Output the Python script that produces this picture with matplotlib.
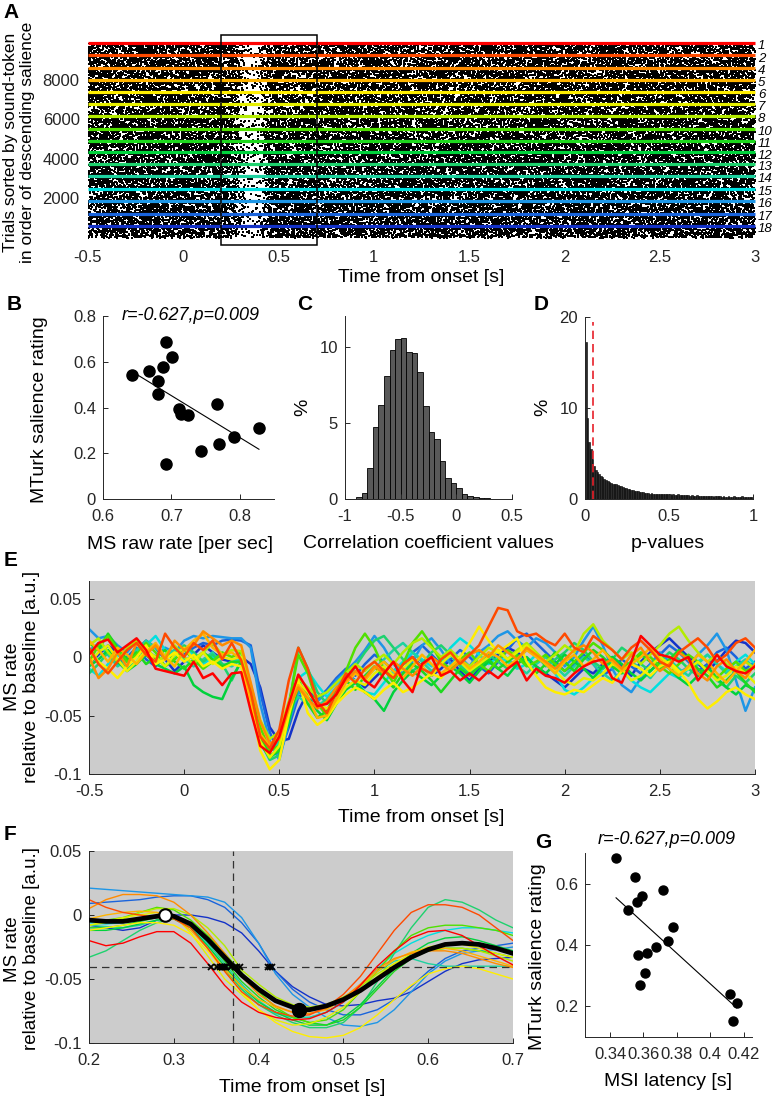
import numpy as np
import matplotlib
matplotlib.use("Agg")
import matplotlib.pyplot as plt
from matplotlib.patches import Rectangle
from matplotlib.ticker import FormatStrFormatter

plt.rcParams["font.family"] = ["Liberation Sans", "DejaVu Sans"]
plt.rcParams["axes.unicode_minus"] = False

W, H = 775, 1098
TICK_FS, LAB_FS = 12, 14
AXC = "#262626"
BG = "#cccccc"

# ---------------- data ----------------
tokens = [1, 2, 4, 5, 6, 7, 8, 10, 11, 12, 13, 14, 15, 16, 17, 18]
token_colors = ["#ff0000", "#ff4a00", "#ff8c00", "#ffb400", "#ffee00", "#e6f000",
                "#b4ec00", "#50e000", "#1ed81e", "#00d23c", "#1ed26e", "#1ed2a0",
                "#00e0e0", "#1e96e6", "#1a64dc", "#1432c8"]
n_trials = [626, 644, 591, 625, 610, 592, 660, 609, 574, 594, 594, 675, 593, 676, 594, 609]

salience = [0.685, 0.622, 0.578, 0.561, 0.540, 0.515, 0.458, 0.414,
            0.394, 0.373, 0.367, 0.309, 0.271, 0.240, 0.211, 0.153]
ms_raw_rate = [0.692, 0.701, 0.688, 0.667, 0.643, 0.681, 0.681, 0.766,
               0.711, 0.714, 0.724, 0.828, 0.792, 0.770, 0.744, 0.692]
msi_latency = [0.3436, 0.3549, 0.3718, 0.3589, 0.3563, 0.3506, 0.3778, 0.3748,
               0.3675, 0.3619, 0.3565, 0.3609, 0.3579, 0.4116, 0.4158, 0.4136]

# relative microsaccade density along time in the raster (white gap after onset)
raster_t = [-0.5, 0.22, 0.27, 0.31, 0.35, 0.40, 0.43, 0.47, 3.0]
raster_density = [1.0, 1.0, 0.8, 0.3, 0.12, 0.2, 0.6, 1.0, 1.0]
raster_events = 52000

# C: histogram of correlation coefficients, bins of 0.05 from -0.9
corr_bin0, corr_bw = -0.9, 0.05
corr_pct = [0.1, 0.42, 2.06, 4.74, 6.16, 8.05, 9.8, 10.46, 10.57, 9.65, 9.58, 8.31,
            6.12, 4.41, 3.93, 2.5, 1.36, 1.07, 0.7, 0.31, 0.22, 0.11, 0.09, 0.04, 0.02]

# D: histogram of p-values, bins of 0.01 from 0
pval_bw = 0.01
pval_pct = [17.3, 8.9, 6.3, 5.5, 4.4, 3.6, 3.2, 3.0, 2.8, 2.5,
            2.4, 2.2, 2.1, 2.0, 1.9, 1.8, 1.7, 1.6, 1.6, 1.5,
            1.4, 1.4, 1.3, 1.2, 1.2, 1.1, 1.1, 1.0, 1.0, 0.9,
            0.9, 0.9, 0.8, 0.8, 0.8, 0.7, 0.7, 0.7, 0.6, 0.7,
            0.6, 0.6, 0.6, 0.5, 0.6, 0.5, 0.5, 0.5, 0.5, 0.5,
            0.5, 0.4, 0.5, 0.4, 0.4, 0.5, 0.4, 0.4, 0.4, 0.4,
            0.4, 0.4, 0.3, 0.4, 0.3, 0.3, 0.4, 0.3, 0.3, 0.3,
            0.3, 0.3, 0.3, 0.3, 0.3, 0.3, 0.2, 0.3, 0.3, 0.3,
            0.3, 0.2, 0.3, 0.2, 0.2, 0.3, 0.2, 0.2, 0.3, 0.2,
            0.2, 0.2, 0.2, 0.3, 0.2, 0.2, 0.2, 0.2, 0.2, 0.2]
pval_crit = 0.05

# E: MS rate per token, 1e-3 a.u., sampled every 0.05 s from -0.5 to 3.0
e_t = np.round(np.arange(-0.5, 3.0001, 0.05), 2)
e_rate_milli = [
    [2, 12, 15, 4, 10, 16, 6, -10, -12, -14, -16, -4, -18, -14, -24, -14,
     -13, -46, -76, -82, -68, -40, -15, -28, -42,
     -40, -32, -18, -8, -20, -26, -14, -4, -20, -30, -6, 0, -16, -12, -20, -14, -20, -12, -18, -10, -4, -20, -10,
     -16, -18, -22, -14, -8, -4, -2, -18, -22, -4, 18, 10, 2, 0, -4, 0, -20, -10, 2, -8, -12, -14, -8],
    [8, -6, -14, -4, 6, 12, 2, -4, 20, 8, 0, 12, 6, 14, -2, 12,
     -3, -30, -68, -78, -62, -20, 8, -10, -38,
     -48, -30, -14, -22, -10, -4, -12, -18, -6, 0, -10, -14, -2, 4, -6, 2, 10, 26, 42, 40, 22, 18, 20,
     14, 10, 20, 8, 4, 18, 12, 6, -2, 8, 14, 6, -4, -8, 4, 10, 16, 8, -4, 2, 12, 16, 8],
    [0, -18, -10, 4, -8, 12, 2, 10, -2, 14, 6, 10, 22, 16, 10, 14,
     10, -22, -55, -74, -70, -44, -26, -36, -44,
     -38, -26, -20, -12, -18, -8, -14, -4, -10, -16, -8, 0, -6, -12, -4, 2, 6, 0, 10, 4, -2, 8, 2,
     -4, -10, -2, 6, 10, 4, -6, -2, -10, 2, 8, -4, -12, -6, 4, -2, -14, -20, -8, -2, -12, -18, -6],
    [14, 6, -4, 8, 2, -6, 4, 12, 0, -8, 6, 14, 20, 8, 2, 4,
     -2, -36, -66, -76, -66, -40, -24, -34, -52,
     -50, -36, -22, -14, -20, -10, -4, -12, -18, -8, 2, -6, -14, -8, -2, -10, -4, 4, 0, -8, -2, 6, 0,
     -6, -14, -4, 2, -8, -2, 6, -4, -12, -6, 0, 8, -2, -10, -16, -8, 2, -4, -14, -22, -12, -4, 6],
    [6, -4, -10, -18, -8, 0, 10, -6, -2, 4, -4, 2, -8, -4, -10, -6,
     -8, -40, -80, -96, -88, -50, -20, -48, -58,
     -52, -40, -32, -26, -30, -36, -28, -22, -30, -26, -20, -14, -18, -8, 0, 12, 26, 14, 4, 10, 16, -4, -16,
     -26, -30, -32, -28, -30, -24, -18, -22, -12, -6, -10, -16, -8, -4, -12, -22, -36, -44, -38, -30, -26, -32, -36],
    [-6, 4, 10, -2, -12, -4, 6, 0, -8, 2, 8, -2, 4, -6, 0, -2,
     0, -34, -72, -86, -76, -46, -22, -30, -40,
     -44, -38, -26, -20, -24, -14, -8, -16, -10, -2, -8, -16, -6, 2, -4, -12, -6, 0, 6, -2, 4, 10, 2,
     -6, -12, -20, -24, -18, -20, -14, -6, -10, -20, -16, -8, 0, -6, -14, -10, -4, -12, -20, -16, -8, -14, -22],
    [10, 16, 4, -4, 8, 14, 4, -6, 2, 10, 0, -6, 4, 12, 2, 6,
     5, -24, -54, -70, -64, -38, -18, -26, -34,
     -30, -22, -14, -6, -12, -4, 2, -6, 4, 12, 16, 8, 0, 6, -2, -8, 0, 8, 4, -2, 6, 12, 4,
     -4, 2, 10, 4, 20, 28, 14, 6, -2, 4, -6, 2, 10, 20, 26, 14, 4, -4, 2, -6, -12, -4, -10],
    [-4, 10, 18, 6, -4, 2, 12, 4, -8, -2, 6, -2, -10, -4, 4, 0,
     4, -30, -60, -80, -76, -40, 2, -14, -40,
     -50, -36, -12, 8, 20, 8, -10, -22, -6, 12, 22, 10, -4, -10, -2, 4, -6, -12, -2, 6, 0, -8, -4,
     2, -6, -12, -4, 4, 12, 6, -2, -10, -4, 4, 0, -8, -14, -6, 2, -4, -12, -18, -10, -4, -12, -8],
    [12, 6, 20, 8, -2, 4, -6, 0, 6, -4, -10, -2, 4, -2, -8, -4,
     -4, -36, -68, -84, -80, -52, -26, -40, -52,
     -46, -30, -20, -28, -16, -8, -18, -26, -14, -6, -12, -20, -30, -20, -10, -16, -8, -2, -10, -4, 2, -6, -14,
     -6, 4, -4, -12, -2, 6, 0, -8, -14, -6, 2, -4, -10, -2, 6, -2, -10, -16, -26, -20, -12, -22, -30],
    [-8, -2, 6, -4, -12, -6, 2, -6, -10, -14, -8, -24, -30, -34, -36, -18,
     -4, -40, -74, -86, -80, -56, -20, -34, -46,
     -54, -40, -28, -22, -30, -36, -46, -30, -20, -12, -18, -24, -16, -8, -14, -22, -12, -4, -10, -16, -6, 0, -8,
     -14, -6, 2, -4, -10, -18, -8, 0, -6, -14, -20, -12, -4, -10, -18, -24, -16, -8, -18, -26, -32, -24, -28],
    [-14, -6, 4, -2, -10, -4, 6, 0, -8, 2, 10, 4, -4, 2, -6, -20,
     -3, -36, -72, -88, -84, -44, 8, -10, -30,
     -40, -28, -18, -8, 4, 14, 18, 8, -2, -12, -6, 4, 10, 2, -8, -14, -6, 2, -4, -10, -2, 6, 2,
     -8, -2, 4, 12, 6, -4, -10, -2, 8, 2, -6, -12, -4, 4, -2, -10, -16, -8, -20, -26, -16, -22, -14],
    [4, 12, 2, -8, -2, 6, 14, 8, 0, 6, -2, -8, -2, 4, -6, -8,
     -2, -38, -68, -80, -72, -44, -34, -40, -42,
     -36, -28, -20, -12, -18, -10, -2, 6, 12, 4, -4, -12, -6, 2, -6, -14, -8, -2, 6, -2, -8, -14, -6,
     0, -8, -16, -8, 0, -6, -14, -20, -12, -4, -10, -18, -8, -2, -10, -16, -6, 2, -6, -14, -8, -2, -10],
    [-10, -16, -6, 2, -4, 4, 10, 18, 6, -2, 8, 2, -6, 0, -8, -4,
     -2, -40, -70, -80, -74, -48, -18, -12, -24,
     -34, -26, -16, -20, -30, -32, -22, -12, -4, 4, -2, -8, -4, 8, 16, 10, 2, -6, 0, -4, -10, -6, 2,
     -6, -14, -28, -32, -26, -18, -10, -4, -12, -20, -26, -30, -22, -14, -18, -10, -4, 2, -6, -12, -4, 2, -6],
    [24, 16, 18, 10, 4, 14, 6, 0, 8, 4, 14, 18, 16, 18, 17, 16,
     16, 8, -40, -72, -88, -56, -30, -36, -38,
     -30, -20, -12, -4, 6, 18, 8, -6, -14, -4, 10, 16, 6, -6, 0, -8, 4, 10, 18, 22, 14, 8, 16,
     12, 4, -8, 0, 14, 26, 10, -10, -24, -30, -18, -6, 4, -4, -14, -8, 2, 10, 20, 6, -20, -46, -26],
    [6, 10, 2, -6, 0, 8, -2, -8, 0, 6, 2, 8, 12, 10, 14, 15,
     14, 10, -30, -64, -84, -60, -34, -30, -36,
     -28, -18, -10, -16, -6, 2, -4, -12, -6, 4, 10, 2, -6, -2, 6, 0, -8, -14, -4, 6, 16, 20, 12,
     4, -4, -12, -6, 2, -6, -16, -10, -2, -8, -14, -6, 2, 10, 4, -4, -12, -6, 4, 8, 0, -10, -4],
    [-6, 2, 10, 4, -4, 6, 14, 8, -2, -12, -4, 2, 10, 4, -2, -4,
     0, -6, -26, -60, -72, -70, -46, -30, -34,
     -30, -22, -14, -20, -26, -18, -10, -16, -6, 0, -8, -16, -10, -2, -12, -20, -10, -4, 2, 8, 4, -2, -8,
     -14, -20, -26, -18, -10, -14, -6, 0, -8, -16, -4, 4, 10, 16, 8, 0, -6, -12, -4, 6, 14, 12, 4],
]

# F: zoom 0.2-0.7 s, 1e-3 a.u., sampled every 0.02 s
f_t = np.round(np.arange(0.2, 0.7001, 0.02), 2)
f_rate_milli = [
    [-20, -24, -22, -17, -13, -13, -22, -38, -55, -68, -76, -80, -82, -81, -76, -68, -55, -40, -28, -18, -13, -12, -16, -24, -32, -39],
    [12, 6, 2, 0, -2, -3, -10, -26, -44, -60, -70, -76, -79, -78, -72, -62, -48, -30, -12, 2, 8, 8, 6, 0, -10, -20],
    [5, 12, 16, 16, 15, 10, 0, -14, -30, -48, -62, -71, -76, -77, -73, -65, -54, -42, -34, -30, -28, -28, -30, -34, -38, -41],
    [-3, 0, 2, 3, 2, -2, -12, -26, -42, -56, -66, -72, -76, -77, -74, -66, -55, -44, -35, -29, -26, -26, -28, -32, -36, -40],
    [-12, -10, -8, -6, -6, -8, -15, -28, -44, -60, -74, -84, -91, -95, -96, -94, -88, -78, -66, -55, -46, -42, -40, -42, -46, -50],
    [-8, -5, -2, 0, 2, 0, -14, -32, -50, -62, -74, -82, -86, -85, -80, -72, -60, -48, -38, -30, -25, -23, -23, -26, -30, -33],
    [-8, -6, -3, 2, 5, 5, 0, -10, -24, -43, -54, -64, -70, -72, -70, -64, -56, -46, -38, -32, -28, -26, -26, -28, -32, -36],
    [-5, -4, -2, 2, 6, 4, -4, -16, -30, -45, -60, -72, -80, -84, -82, -74, -60, -44, -28, -16, -10, -8, -8, -10, -12, -16],
    [-10, -10, -8, -5, -2, -2, -8, -20, -36, -52, -64, -74, -80, -84, -86, -82, -72, -58, -44, -34, -28, -26, -26, -28, -30, -33],
    [-12, -12, -10, -7, -4, -3, -10, -24, -40, -56, -68, -76, -82, -86, -86, -80, -70, -56, -42, -30, -22, -18, -17, -20, -24, -28],
    [-33, -28, -20, -12, -6, -3, -10, -26, -43, -58, -70, -78, -84, -88, -88, -84, -72, -52, -30, -10, 6, 12, 10, 4, -4, -10],
    [-8, -9, -10, -8, -4, -2, -8, -22, -38, -54, -67, -76, -80, -80, -76, -68, -56, -44, -36, -34, -38, -40, -40, -40, -40, -40],
    [-6, -7, -6, -4, -2, -2, -9, -24, -42, -58, -70, -77, -80, -80, -76, -68, -56, -42, -30, -22, -16, -12, -10, -10, -12, -14],
    [21, 20, 19, 18, 17, 16, 15, 14, 10, -2, -22, -46, -62, -72, -80, -86, -87, -84, -74, -60, -46, -36, -30, -28, -27, -25],
    [9, 10, 11, 12, 14, 15, 15, 12, 6, -6, -22, -44, -58, -68, -74, -78, -78, -74, -66, -56, -44, -34, -28, -26, -24, -22],
    [-8, -10, -12, -10, -4, 0, 0, -2, -6, -14, -28, -44, -56, -64, -70, -71, -70, -67, -65, -60, -52, -44, -38, -35, -34, -33],
]
mean_t = [0.2, 0.22, 0.24, 0.26, 0.28, 0.29, 0.30, 0.32, 0.34, 0.36, 0.38, 0.40, 0.42, 0.44,
          0.45, 0.46, 0.48, 0.50, 0.52, 0.54, 0.56, 0.58, 0.60, 0.62, 0.64, 0.66, 0.68, 0.70]
mean_milli = [-4, -5, -5, -3, -1, 0, -1, -7, -19, -33, -47, -58, -67, -72,
              -74, -74, -71, -66, -59, -50, -41, -33, -27, -23, -22, -23, -26, -30]
peak_pt = (0.29, 0.0)
trough_pt = (0.448, -0.074)
thresh = -0.041
mean_latency = 0.37


# ---------------- helpers ----------------
fig = plt.figure(figsize=(W / 100, H / 100), dpi=100)


def px_axes(left, top, right, bottom):
    return fig.add_axes([left / W, 1 - bottom / H, (right - left) / W, (bottom - top) / H])


def ftext(x, y, s, **kw):
    kw.setdefault("ha", "center")
    kw.setdefault("va", "center")
    kw.setdefault("fontsize", LAB_FS)
    fig.text(x / W, 1 - y / H, s, **kw)


def style(ax, fmt="%g"):
    for side in ("top", "right"):
        ax.spines[side].set_visible(False)
    for side in ("left", "bottom"):
        ax.spines[side].set_color(AXC)
        ax.spines[side].set_linewidth(0.7)
    ax.tick_params(direction="in", length=3.5, width=0.7, color=AXC,
                   labelsize=TICK_FS, labelcolor=AXC)
    ax.tick_params(axis="x", pad=7)
    ax.tick_params(axis="y", pad=5)
    ax.xaxis.set_major_formatter(FormatStrFormatter(fmt))
    ax.yaxis.set_major_formatter(FormatStrFormatter(fmt))


# ---------------- A: raster ----------------
axA = px_axes(88, 43, 755, 237.7)
total = sum(n_trials)
axA.set_xlim(-0.5, 3.0)
axA.set_ylim(0, total)

# the single events cannot be read: stand-in speckle from quadratic Weyl
# sequences (deterministic), time warped so density follows the read-off profile
k = np.arange(raster_events, dtype=float)
u1 = (k * k * 0.41421356237 + k * 0.23606797750) % 1
u2 = (k * k * 0.73205080757 + k * 0.14159265359) % 1
tt = np.linspace(-0.5, 3.0, 1401)
cdf = np.cumsum(np.interp(tt, raster_t, raster_density))
cdf = (cdf - cdf[0]) / (cdf[-1] - cdf[0])
xs = np.interp(u1, cdf, tt)
ys = total * u2
axA.scatter(xs, ys, s=1.6, marker="s", c="black", linewidths=0,
            rasterized=True, zorder=1)

tops = np.cumsum(n_trials[::-1])[::-1]
for tok, col, y in zip(tokens, token_colors, tops):
    axA.plot([-0.5, 3.0], [y, y], color=col, lw=2.3, solid_capstyle="butt",
             clip_on=False, zorder=3)
    axA.text(3.015, y - 170, str(tok), fontsize=9.5, style="italic",
             ha="left", va="center", clip_on=False)
axA.add_patch(Rectangle((0.2, -370), 0.5, total + 790, fill=False, ec="black",
                        lw=1.1, clip_on=False, zorder=4))
for s in axA.spines.values():
    s.set_visible(False)
axA.set_xticks([-0.5, 0, 0.5, 1, 1.5, 2, 2.5, 3])
axA.set_yticks([2000, 4000, 6000, 8000])
axA.tick_params(length=0, labelsize=TICK_FS, labelcolor=AXC)
axA.tick_params(axis="x", pad=9)
axA.tick_params(axis="y", pad=6)
axA.xaxis.set_major_formatter(FormatStrFormatter("%g"))
ftext(421, 277, "Time from onset [s]")
ftext(19, 142, "Trials sorted by sound-token\nin order of descending salience",
      rotation=90, fontsize=12.5, linespacing=1.15)

# ---------------- B ----------------
axB = px_axes(103, 316, 274, 499)
axB.plot(ms_raw_rate, salience, "o", color="black", ms=8, zorder=3)
cb = np.polyfit(ms_raw_rate, salience, 1)
xb = np.array([min(ms_raw_rate), max(ms_raw_rate)])
axB.plot(xb, np.polyval(cb, xb), color="black", lw=0.8)
axB.set_xlim(0.6, 0.85)
axB.set_ylim(0, 0.8)
axB.set_xticks([0.6, 0.7, 0.8])
axB.set_yticks([0, 0.2, 0.4, 0.6, 0.8])
style(axB)
ftext(191, 316, "r=-0.627,p=0.009", style="italic", fontsize=13)
ftext(180, 545, "MS raw rate [per sec]")
ftext(40, 410, "MTurk salience rating", rotation=90)

# ---------------- C ----------------
axC = px_axes(345, 316, 512, 499)
edges_c = corr_bin0 + corr_bw * np.arange(len(corr_pct))
axC.bar(edges_c, corr_pct, width=corr_bw, align="edge", color="#595959",
        edgecolor="black", linewidth=0.6)
axC.set_xlim(-1, 0.5)
axC.set_ylim(0, 12)
axC.set_xticks([-1, -0.5, 0, 0.5])
axC.set_yticks([0, 5, 10])
style(axC)
ftext(428, 543, "Correlation coefficient values")
ftext(303, 407, "%", rotation=90)

# ---------------- D ----------------
axD = px_axes(585, 317, 753, 499)
edges_d = pval_bw * np.arange(len(pval_pct))
axD.bar(edges_d, pval_pct, width=pval_bw, align="edge", color="#2b2b2b",
        edgecolor="black", linewidth=0.4)
axD.plot([pval_crit, pval_crit], [0, 19.5], color="#e8202a", lw=1.2,
         dashes=(5, 3), zorder=3)
axD.set_xlim(0, 1)
axD.set_ylim(0, 20)
axD.set_xticks([0, 0.5, 1])
axD.set_yticks([0, 10, 20])
style(axD)
ftext(668, 543, "p-values")
ftext(543, 407, "%", rotation=90)

# ---------------- E ----------------
axE = px_axes(89, 581, 755, 774)
axE.set_facecolor(BG)
for tr, col in list(zip(e_rate_milli, token_colors))[::-1]:
    axE.plot(e_t, np.array(tr) / 1000, color=col, lw=1.8,
             solid_joinstyle="round")
axE.set_xlim(-0.5, 3.0)
axE.set_ylim(-0.1, 0.065)
axE.set_xticks([-0.5, 0, 0.5, 1, 1.5, 2, 2.5, 3])
axE.set_yticks([-0.1, -0.05, 0, 0.05])
style(axE)
ftext(421, 818, "Time from onset [s]")
ftext(22, 677, "MS rate\nrelative to baseline [a.u.]", rotation=90, linespacing=1.15)

# ---------------- F ----------------
axF = px_axes(89, 851, 513, 1043)
axF.set_facecolor(BG)
for tr, col in list(zip(f_rate_milli, token_colors))[::-1]:
    axF.plot(f_t, np.array(tr) / 1000, color=col, lw=1.0)
axF.axhline(thresh, color="#333333", lw=0.9, dashes=(6, 4), zorder=3)
axF.axvline(mean_latency, color="#333333", lw=0.9, dashes=(6, 4), zorder=3)
axF.plot(mean_t, np.array(mean_milli) / 1000, color="black", lw=3.4, zorder=4)
axF.plot(msi_latency, [thresh] * len(msi_latency), "x", color="black", ms=5,
         mew=1.3, zorder=5)
axF.plot(*peak_pt, "o", mfc="white", mec="black", ms=9, mew=1.5, zorder=6)
axF.plot(*trough_pt, "o", color="black", ms=10, zorder=6)
axF.set_xlim(0.2, 0.7)
axF.set_ylim(-0.1, 0.05)
axF.set_xticks([0.2, 0.3, 0.4, 0.5, 0.6, 0.7])
axF.set_yticks([-0.1, -0.05, 0, 0.05])
style(axF)
ftext(302, 1087, "Time from onset [s]")
ftext(22, 949, "MS rate\nrelative to baseline [a.u.]", rotation=90, linespacing=1.15,
      fontsize=13.5)

# ---------------- G ----------------
axG = px_axes(585, 853, 752, 1037)
axG.plot(msi_latency, salience, "o", color="black", ms=6.5, zorder=3)
cg = np.polyfit(msi_latency, salience, 1)
xg = np.array([min(msi_latency), max(msi_latency)])
axG.plot(xg, np.polyval(cg, xg), color="black", lw=0.8)
axG.set_xlim(0.325, 0.425)
axG.set_ylim(0.1, 0.7)
axG.set_xticks([0.34, 0.36, 0.38, 0.4, 0.42])
axG.set_yticks([0.2, 0.4, 0.6])
style(axG)
ftext(667, 840, "r=-0.627,p=0.009", style="italic", fontsize=13)
ftext(668, 1082, "MSI latency [s]")
ftext(538, 957, "MTurk salience rating", rotation=90)

# ---------------- panel letters ----------------
for letter, x, y in [("A", 11, 13), ("B", 14, 305), ("C", 305, 305), ("D", 541, 305),
                     ("E", 11, 560), ("F", 10, 834), ("G", 543, 843)]:
    ftext(x, y, letter, fontsize=15, fontweight="bold")

fig.savefig("out.png", dpi=100)
